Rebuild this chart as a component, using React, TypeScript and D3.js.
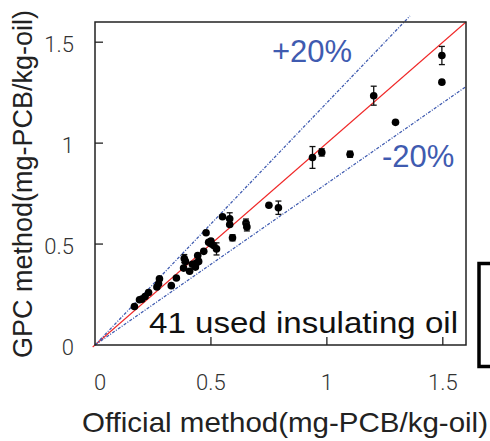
import React from "react";
import * as d3 from "d3";

const official = [1.496, 1.496, 1.202, 1.296, 0.938, 0.978, 1.10, 0.750, 0.791, 0.55, 0.581, 0.581, 0.651, 0.655, 0.593, 0.479, 0.49, 0.5, 0.512, 0.524, 0.469, 0.443, 0.385, 0.39, 0.437, 0.447, 0.433, 0.382, 0.408, 0.351, 0.329, 0.278, 0.274, 0.267, 0.231, 0.216, 0.202, 0.192, 0.170, 0.50, 0.42];
const gpc = [1.434, 1.302, 1.235, 1.103, 0.929, 0.954, 0.945, 0.692, 0.680, 0.635, 0.625, 0.597, 0.604, 0.585, 0.531, 0.556, 0.509, 0.502, 0.493, 0.476, 0.464, 0.443, 0.428, 0.414, 0.406, 0.414, 0.386, 0.381, 0.365, 0.332, 0.294, 0.328, 0.303, 0.287, 0.260, 0.240, 0.227, 0.224, 0.191, 0.515, 0.40];
const gpcErr = [0.045, 0.01, 0.047, 0.008, 0.054, 0.018, 0.015, 0.012, 0.033, 0.01, 0.03, 0.01, 0.02, 0.02, 0.015, 0.01, 0.01, 0.01, 0.01, 0.03, 0.01, 0.01, 0.02, 0.01, 0.01, 0.01, 0.01, 0.01, 0.01, 0.01, 0.01, 0.01, 0.01, 0.01, 0.01, 0.01, 0.01, 0.01, 0.01, 0.01, 0.01];
const ticks = [0, 0.5, 1, 1.5];
const tickLabels = ["0", "0.5", "1", "1.5"];
const domainMax = 1.6;
const bandFactors = [1.2, 0.8];
const bandLabels = ["+20%", "-20%"];

export default function App() {
  const left = 95, right = 466, top = 22, bottom = 345;
  const x = d3.scaleLinear().domain([0, domainMax]).range([left, right]);
  const y = d3.scaleLinear().domain([0, domainMax]).range([bottom, top]);
  const line = d3.line<[number, number]>().x(d => x(d[0])).y(d => y(d[1]));
  const tickFont = { fontFamily: "Roboto, 'Liberation Sans', sans-serif", fontWeight: 300, fontSize: 22, fill: "#333" } as const;
  const blue = "#3f5bb0";
  return (
    <div style={{ position: "absolute", left: 0, top: 0 }}>
      <svg width={490} height={441} style={{ display: "block" }}>
        <rect x={0} y={0} width={490} height={441} fill="#fff" />
        <path d={line([[-0.01, -0.01], [domainMax, domainMax]]) || ""} stroke="#f02828" strokeWidth={1.1} fill="none" />
        {bandFactors.map((f, i) => {
          const xe = Math.min(domainMax, 1.63 / f);
          return (
            <path key={i} d={line([[0, 0], [xe, xe * f]]) || ""} stroke={blue} strokeWidth={1.3}
              strokeDasharray="3,1.5,1,1.5" fill="none" />
          );
        })}
        <rect x={left} y={top} width={right - left} height={bottom - top} fill="none" stroke="#222" strokeWidth={1.5} />
        {ticks.map((t, i) => (
          <g key={i}>
            {t > 0 && <line x1={x(t)} x2={x(t)} y1={bottom} y2={bottom - 8} stroke="#222" strokeWidth={1.3} />}
            {t > 0 && <line x1={left} x2={left + 8} y1={y(t)} y2={y(t)} stroke="#222" strokeWidth={1.3} />}
            <text x={x(t) + (t === 0 ? 5 : 0)} y={390} textAnchor="middle" {...tickFont}>{tickLabels[i]}</text>
            <text x={74} y={y(t) + 4} textAnchor="end" dominantBaseline="middle" {...tickFont}>{tickLabels[i]}</text>
          </g>
        ))}
        {official.map((v, i) => {
          const cx = x(v), cy = y(gpc[i]);
          const e = gpcErr[i];
          const y1 = y(gpc[i] + e), y2 = y(gpc[i] - e);
          return (
            <g key={i}>
              {e > 0.012 && (
                <g stroke="#111" strokeWidth={1.3}>
                  <line x1={cx} x2={cx} y1={y1} y2={y2} />
                  <line x1={cx - 3} x2={cx + 3} y1={y1} y2={y1} />
                  <line x1={cx - 3} x2={cx + 3} y1={y2} y2={y2} />
                </g>
              )}
              <circle cx={cx} cy={cy} r={3.8} fill="#000" />
            </g>
          );
        })}
        <text x={272} y={62} fontFamily="'Liberation Sans', Arial, sans-serif" fontSize={31} fill={blue}>{bandLabels[0]}</text>
        <text x={382} y={167} fontFamily="'Liberation Sans', Arial, sans-serif" fontSize={31} fill={blue}>{bandLabels[1]}</text>
        <text x={149} y={333} fontFamily="'Liberation Sans', Arial, sans-serif" fontSize={30} fill="#111" textLength={309} lengthAdjust="spacingAndGlyphs">41 used insulating oil</text>
        <text x={82} y={432} fontFamily="'Liberation Sans', Arial, sans-serif" fontSize={28} fill="#222" textLength={406} lengthAdjust="spacingAndGlyphs">Official method(mg-PCB/kg-oil)</text>
        <text transform="translate(32,184) rotate(-90)" textAnchor="middle" fontFamily="'Liberation Sans', Arial, sans-serif" fontSize={27} fill="#222" textLength={348} lengthAdjust="spacingAndGlyphs">GPC method(mg-PCB/kg-oil)</text>
        <path d="M490,263.5 H479 V366.5 H490" stroke="#000" strokeWidth={3.5} fill="none" />
      </svg>
    </div>
  );
}
